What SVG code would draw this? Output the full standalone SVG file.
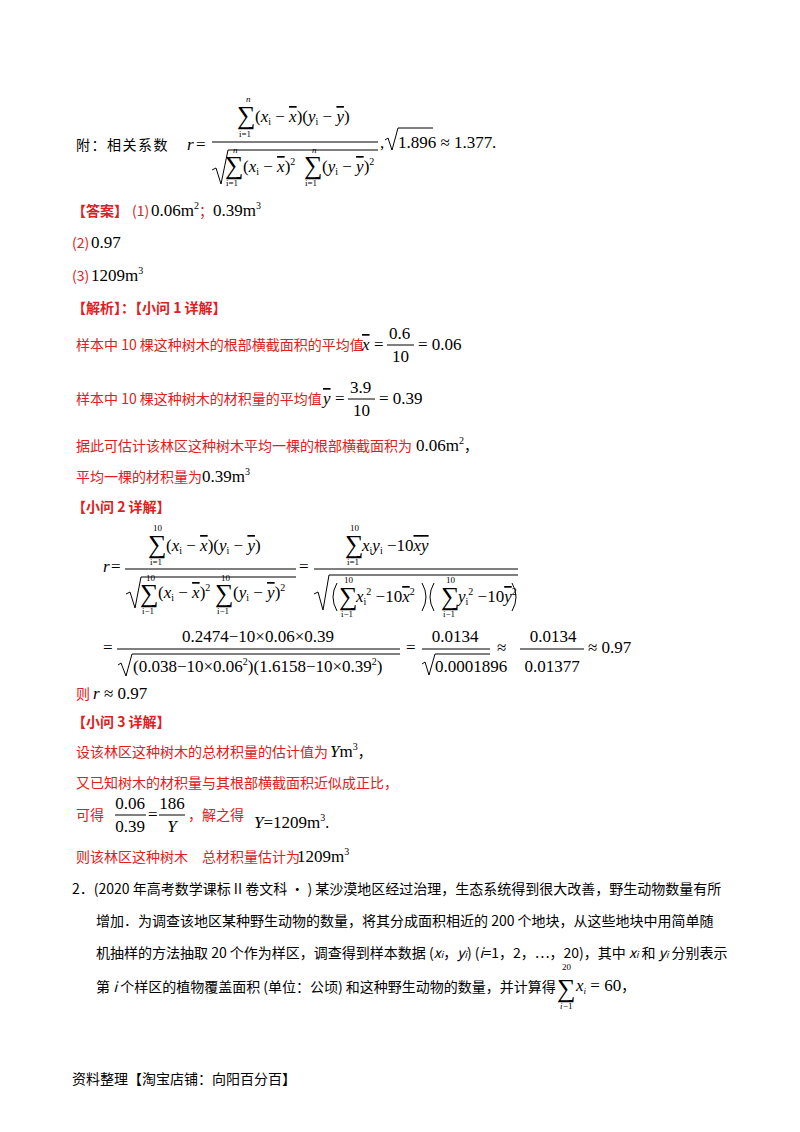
<svg xmlns="http://www.w3.org/2000/svg" width="800" height="1132" viewBox="0 0 800 1132">
<style>
.c{font-family:"Noto Sans CJK SC","Noto Sans",sans-serif;font-size:14px;fill:#000}
.r{fill:#e02020}
.m{font-family:"Liberation Serif",serif;font-size:17px;fill:#000}
.s{font-family:"Liberation Serif",serif;font-size:9px;fill:#000}
.S{font-family:"Liberation Serif",serif;font-size:26px;fill:#000}
.i{font-style:italic}
.o{text-decoration:overline}
line,path{stroke:#000;stroke-width:1;fill:none}
</style>
<rect width="800" height="1132" fill="#fff"/>
<text class="c" x="76" y="150" letter-spacing="1.5">附：相关系数</text>
<text class="m i" x="187" y="150">r</text><text class="m" x="196" y="150">=</text>
<text class="s i" x="246" y="102">n</text>
<text class="S" x="237" y="124">∑</text>
<text class="s" x="239" y="137">i=1</text>
<text class="m" x="255" y="122">(<tspan class="i">x</tspan><tspan font-size="10" dy="3">i</tspan><tspan dy="-3"> − </tspan><tspan class="i o">x</tspan>)(<tspan class="i">y</tspan><tspan font-size="10" dy="3">i</tspan><tspan dy="-3"> − </tspan><tspan class="i o">y</tspan>)</text>
<line x1="212" y1="142" x2="378" y2="142"/>
<path d="M212,170 L216,168 L221,184 L228,150 L378,150"/>
<text class="s i" x="233" y="153">n</text><text class="S" x="225" y="174">∑</text><text class="s" x="226" y="186">i=1</text>
<text class="m" x="243" y="172">(<tspan class="i">x</tspan><tspan font-size="10" dy="3">i</tspan><tspan dy="-3"> − </tspan><tspan class="i o">x</tspan>)<tspan font-size="10" dy="-7">2</tspan></text>
<text class="s i" x="312" y="153">n</text><text class="S" x="304" y="174">∑</text><text class="s" x="305" y="186">i=1</text>
<text class="m" x="322" y="172">(<tspan class="i">y</tspan><tspan font-size="10" dy="3">i</tspan><tspan dy="-3"> − </tspan><tspan class="i o">y</tspan>)<tspan font-size="10" dy="-7">2</tspan></text>
<text class="m" x="380" y="148">,</text>
<path d="M385,140 L388,138 L392,150 L398,128 L433,128"/>
<text class="m" x="398" y="148">1.896 ≈ 1.377</text>
<text class="m" x="492" y="148">.</text>
<text class="c r" x="72" y="216" font-weight="bold">【答案】</text>
<text class="c r" x="132" y="216">(1)</text>
<text class="m" x="151" y="216">0.06m<tspan font-size="10" dy="-7">2</tspan><tspan dy="7" class="c r">；</tspan><tspan>0.39m</tspan><tspan font-size="10" dy="-7">3</tspan></text>
<text class="c r" x="72" y="248">(2)</text><text class="m" x="91" y="248">0.97</text>
<text class="c r" x="72" y="281">(3)</text><text class="m" x="91" y="281">1209m<tspan font-size="10" dy="-7">3</tspan></text>
<text class="c r" x="72" y="313" font-weight="bold">【解析】：【小问 1 详解】</text>
<text class="c r" x="76" y="350">样本中 10 棵这种树木的根部横截面积的平均值</text>
<text class="m i o" x="362" y="350">x</text>
<text class="m" x="374" y="350">=</text>
<text class="m" x="389" y="339">0.6</text><line x1="387" y1="345" x2="414" y2="345"/><text class="m" x="392" y="362">10</text>
<text class="m" x="418" y="350">= 0.06</text>
<text class="c r" x="76" y="404">样本中 10 棵这种树木的材积量的平均值</text>
<text class="m i o" x="323" y="404">y</text>
<text class="m" x="335" y="404">=</text>
<text class="m" x="350" y="393">3.9</text><line x1="348" y1="399" x2="375" y2="399"/><text class="m" x="353" y="416">10</text>
<text class="m" x="379" y="404">= 0.39</text>
<text class="c r" x="76" y="451">据此可估计该林区这种树木平均一棵的根部横截面积为</text>
<text class="m" x="416" y="451">0.06m<tspan font-size="10" dy="-7">2</tspan><tspan dy="7" class="c">，</tspan></text>
<text class="c r" x="76" y="482">平均一棵的材积量为</text>
<text class="m" x="202" y="482">0.39m<tspan font-size="10" dy="-7">3</tspan></text>
<text class="c r" x="72" y="512" font-weight="bold">【小问 2 详解】</text>
<text class="m i" x="103" y="572">r</text><text class="m" x="111" y="572">=</text>
<text class="s" x="153" y="531">10</text><text class="S" x="148" y="553">∑</text><text class="s" x="150" y="565">i=1</text>
<text class="m" x="166" y="551">(<tspan class="i">x</tspan><tspan font-size="10" dy="3">i</tspan><tspan dy="-3"> − </tspan><tspan class="i o">x</tspan>)(<tspan class="i">y</tspan><tspan font-size="10" dy="3">i</tspan><tspan dy="-3"> − </tspan><tspan class="i o">y</tspan>)</text>
<line x1="125" y1="569" x2="296" y2="569"/>
<path d="M126,594 L130,592 L135,608 L141,577 L296,577"/>
<text class="s" x="146" y="581">10</text><text class="S" x="140" y="602">∑</text><text class="s" x="142" y="614">i−1</text>
<text class="m" x="158" y="598">(<tspan class="i">x</tspan><tspan font-size="10" dy="3">i</tspan><tspan dy="-3"> − </tspan><tspan class="i o">x</tspan>)<tspan font-size="10" dy="-7">2</tspan></text>
<text class="s" x="221" y="581">10</text><text class="S" x="215" y="602">∑</text><text class="s" x="217" y="614">i−1</text>
<text class="m" x="233" y="598">(<tspan class="i">y</tspan><tspan font-size="10" dy="3">i</tspan><tspan dy="-3"> − </tspan><tspan class="i o">y</tspan>)<tspan font-size="10" dy="-7">2</tspan></text>
<text class="m" x="299" y="572">=</text>
<text class="s" x="350" y="531">10</text><text class="S" x="345" y="553">∑</text><text class="s" x="347" y="565">i=1</text>
<text class="m" x="362" y="551"><tspan class="i">x</tspan><tspan font-size="10" dy="3">i</tspan><tspan class="i" dy="-3">y</tspan><tspan font-size="10" dy="3">i</tspan><tspan dy="-3"> −10</tspan><tspan class="i o">xy</tspan></text>
<line x1="314" y1="569" x2="518" y2="569"/>
<path d="M314,594 L318,592 L323,610 L329,575 L518,575"/>
<path d="M337,583 Q329,597 337,611"/>
<text class="s" x="344" y="583">10</text><text class="S" x="339" y="605">∑</text><text class="s" x="341" y="617">i−1</text>
<text class="m" x="356" y="602"><tspan class="i">x</tspan><tspan font-size="10" dy="3">i</tspan><tspan font-size="10" dy="-10">2</tspan><tspan dy="7"> −10</tspan><tspan class="i o">x</tspan><tspan font-size="10" dy="-7">2</tspan></text>
<path d="M422,583 Q430,597 422,611"/>
<path d="M434,583 Q426,597 434,611"/>
<text class="s" x="446" y="583">10</text><text class="S" x="441" y="605">∑</text><text class="s" x="443" y="617">i−1</text>
<text class="m" x="458" y="602"><tspan class="i">y</tspan><tspan font-size="10" dy="3">i</tspan><tspan font-size="10" dy="-10">2</tspan><tspan dy="7"> −10</tspan><tspan class="i o">y</tspan><tspan font-size="10" dy="-7">2</tspan></text>
<path d="M512,583 Q520,597 512,611"/>
<text class="m" x="103" y="653">=</text>
<text class="m" x="258" y="642" text-anchor="middle">0.2474−10×0.06×0.39</text>
<line x1="117" y1="649" x2="400" y2="649"/>
<path d="M118,665 L121,663 L126,676 L132,654 L400,654"/>
<text class="m" x="133" y="672">(0.038−10×0.06<tspan font-size="10" dy="-7">2</tspan><tspan dy="7">)(1.6158−10×0.39</tspan><tspan font-size="10" dy="-7">2</tspan><tspan dy="7">)</tspan></text>
<text class="m" x="406" y="653">=</text>
<text class="m" x="455" y="642" text-anchor="middle">0.0134</text>
<line x1="422" y1="649" x2="490" y2="649"/>
<path d="M422,664 L425,662 L429,675 L435,654 L490,654"/>
<text class="m" x="435" y="672">0.0001896</text>
<text class="m" x="497" y="653">≈</text>
<text class="m" x="553" y="642" text-anchor="middle">0.0134</text>
<line x1="520" y1="649" x2="584" y2="649"/>
<text class="m" x="552" y="672" text-anchor="middle">0.01377</text>
<text class="m" x="588" y="653">≈ 0.97</text>
<text class="c r" x="76" y="699">则</text><text class="m" x="93" y="699"><tspan class="i">r</tspan> ≈ 0.97</text>
<text class="c r" x="72" y="727" font-weight="bold">【小问 3 详解】</text>
<text class="c r" x="76" y="757">设该林区这种树木的总材积量的估计值为</text>
<text class="m" x="330" y="757"><tspan class="i">Y</tspan>m<tspan font-size="10" dy="-7">3</tspan><tspan dy="7" class="c">，</tspan></text>
<text class="c r" x="76" y="788">又已知树木的材积量与其根部横截面积近似成正比，</text>
<text class="c r" x="76" y="820">可得</text>
<text class="m" x="130" y="809" text-anchor="middle">0.06</text><line x1="115" y1="815" x2="146" y2="815"/><text class="m" x="130" y="832" text-anchor="middle">0.39</text>
<text class="m" x="148" y="820">=</text>
<text class="m" x="172" y="809" text-anchor="middle">186</text><line x1="159" y1="815" x2="185" y2="815"/><text class="m i" x="172" y="832" text-anchor="middle">Y</text>
<text class="c r" x="188" y="820">，解之得</text>
<text class="m" x="254" y="828"><tspan class="i">Y</tspan>=1209m<tspan font-size="10" dy="-7">3</tspan><tspan dy="7" class="c">.</tspan></text>
<text class="c r" x="76" y="862">则该林区这种树木　总材积量估计为</text>
<text class="m" x="297" y="862">1209m<tspan font-size="10" dy="-7">3</tspan></text>
<text class="c" x="72" y="894">2．(2020 年高考数学课标 II 卷文科 • ) 某沙漠地区经过治理，生态系统得到很大改善，野生动物数量有所</text>
<text class="c" x="96" y="926">增加．为调查该地区某种野生动物的数量，将其分成面积相近的 200 个地块，从这些地块中用简单随</text>
<text class="c" x="96" y="958">机抽样的方法抽取 20 个作为样区，调查得到样本数据 (<tspan font-style="italic">x<tspan font-size="9">i</tspan></tspan>，<tspan font-style="italic">y<tspan font-size="9">i</tspan></tspan>) (<tspan font-style="italic">i</tspan>=1，2，…，20)，其中 <tspan font-style="italic">x<tspan font-size="9">i</tspan></tspan> 和 <tspan font-style="italic">y<tspan font-size="9">i</tspan></tspan> 分别表示</text>
<text class="c" x="96" y="992">第 <tspan font-style="italic">i</tspan> 个样区的植物覆盖面积 (单位：公顷) 和这种野生动物的数量，并计算得</text>
<text class="s" x="562" y="970">20</text><text class="S" x="557" y="997">∑</text><text class="s" x="560" y="1009" font-style="italic">i</text><text class="s" x="563" y="1009">−1</text>
<text class="m" x="576" y="991"><tspan class="i">x</tspan><tspan font-size="9" class="i" dy="3">i</tspan><tspan dy="-3"> = 60</tspan><tspan class="c">，</tspan></text>
<text class="c" x="72" y="1084">资料整理【淘宝店铺：向阳百分百】</text>
</svg>
